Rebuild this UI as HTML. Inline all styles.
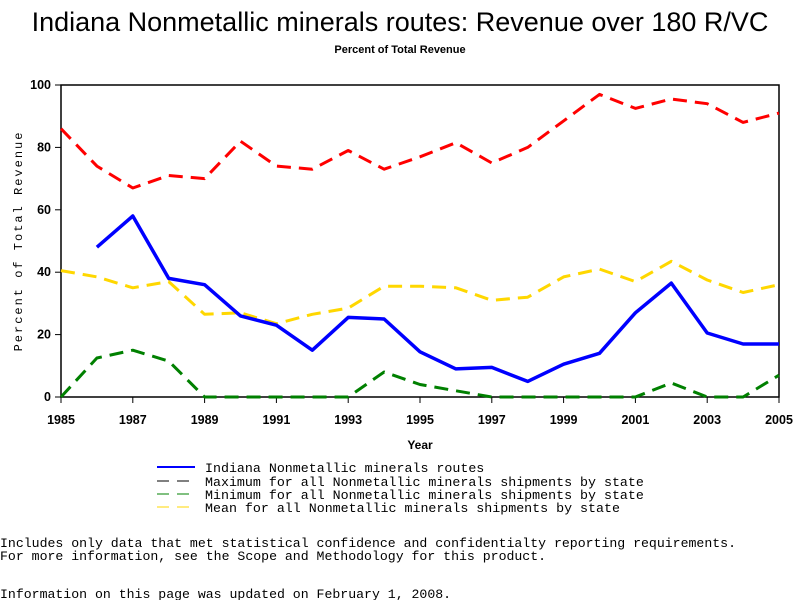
<!DOCTYPE html>
<html><head><meta charset="utf-8"><style>
body{margin:0;background:#fff;width:800px;height:600px;overflow:hidden}
svg{display:block}
</style></head><body>
<svg id="chart" width="800" height="600" xmlns="http://www.w3.org/2000/svg">
<text x="400" y="31" text-anchor="middle" font-family="Liberation Sans, sans-serif" font-size="27">Indiana Nonmetallic minerals routes: Revenue over 180 R/VC</text>
<text x="400" y="53" text-anchor="middle" font-family="Liberation Sans, sans-serif" font-size="11" font-weight="bold">Percent of Total Revenue</text>
<rect x="61" y="85" width="718" height="312" fill="none" stroke="#000" stroke-width="1.5"/>
<g id="yticks"></g><g id="xticks"></g><g id="series"></g>
<text transform="translate(22,241) rotate(-90)" text-anchor="middle" font-family="Liberation Mono, monospace" font-size="12" letter-spacing="2">Percent of Total Revenue</text>
<text x="420" y="449" text-anchor="middle" font-family="Liberation Sans, sans-serif" font-size="12" font-weight="bold">Year</text>
<g font-family="Liberation Mono, monospace" font-size="13.3">
<g><line x1="157" y1="467" x2="195" y2="467" stroke="#0000ff" stroke-width="2"/><text x="205" y="472">Indiana Nonmetallic minerals routes</text></g>
<g><line x1="157" y1="481" x2="195" y2="481" stroke="#000" stroke-width="1" stroke-dasharray="12,8"/><text x="205" y="486">Maximum for all Nonmetallic minerals shipments by state</text></g>
<g><line x1="157" y1="494" x2="195" y2="494" stroke="#008000" stroke-width="1" stroke-dasharray="12,8"/><text x="205" y="499">Minimum for all Nonmetallic minerals shipments by state</text></g>
<g><line x1="157" y1="507" x2="195" y2="507" stroke="#ffd700" stroke-width="1" stroke-dasharray="12,8"/><text x="205" y="512">Mean for all Nonmetallic minerals shipments by state</text></g>
</g>
<g font-family="Liberation Mono, monospace" font-size="13.2">
<text x="0" y="547">Includes only data that met statistical confidence and confidentialty reporting requirements.</text>
<text x="0" y="560">For more information, see the Scope and Methodology for this product.</text>
<text x="0" y="598">Information on this page was updated on February 1, 2008.</text>
</g>
</svg>
<script>
const years=[1985,1986,1987,1988,1989,1990,1991,1992,1993,1994,1995,1996,1997,1998,1999,2000,2001,2002,2003,2004,2005];
const indiana=[null,48,58,38,36,26,23,15,25.5,25,14.5,9,9.5,5,10.5,14,27,36.5,20.5,17,17];
const maximum=[86,74,67,71,70,82,74,73,79,73,77,81.5,75,80,88.5,97,92.5,95.5,94,88,91];
const minimum=[0,12.5,15,11.5,0,0,0,0,0,8,4,2,0,0,0,0,0,4.5,0,0,7];
const mean=[40.5,38.5,35,37,26.5,27,23.5,26.5,28.5,35.5,35.5,35,31,32,38.5,41,37,43.5,37.5,33.5,36];
const yTicks=[0,20,40,60,80,100];
const xTicks=[1985,1987,1989,1991,1993,1995,1997,1999,2001,2003,2005];
const NS='http://www.w3.org/2000/svg';
const X=y=>61+(y-1985)*(718/20);
const Y=v=>397-v*3.12;
function mk(tag,attrs,parent){const e=document.createElementNS(NS,tag);for(const k in attrs)e.setAttribute(k,attrs[k]);parent.appendChild(e);return e;}
const yt=document.getElementById('yticks');
yTicks.forEach(v=>{
 const l=mk('line',{x1:55,x2:61,y1:Y(v),y2:Y(v),stroke:'#000'},yt);
 
 
 const t=mk('text',{x:51,y:Y(v)+4,'text-anchor':'end','font-family':'Liberation Sans, sans-serif','font-size':12.5,'font-weight':'bold'},yt);
 t.textContent=v;
 
 
});
const xt=document.getElementById('xticks');
xTicks.forEach(v=>{
 const l=mk('line',{x1:X(v),x2:X(v),y1:397,y2:403,stroke:'#000'},xt);
 
 
 const t=mk('text',{x:X(v),y:424,'text-anchor':'middle','font-family':'Liberation Sans, sans-serif','font-size':12.5,'font-weight':'bold'},xt);
 t.textContent=v;
 
 
});
const sg=document.getElementById('series');
function line(vals,color,w,dash,name){
 let d='';let pen=false;
 vals.forEach((v,i)=>{if(v===null){pen=false;return;}d+=(pen?'L':'M')+X(years[i]).toFixed(1)+','+Y(v).toFixed(1)+' ';pen=true;});
 const p=mk('path',{d:d,fill:'none',stroke:color,'stroke-width':w,'stroke-linejoin':'round'},sg);
 if(dash)p.setAttribute('stroke-dasharray',dash);
 
 
}
line(maximum,'#ff0000',3,'14,8','maximum-line');
line(mean,'#ffd700',3,'14,8','mean-line');
line(minimum,'#008000',3,'14,8','minimum-line');
line(indiana,'#0000ff',3.5,null,'indiana-line');
</script>
</body></html>
